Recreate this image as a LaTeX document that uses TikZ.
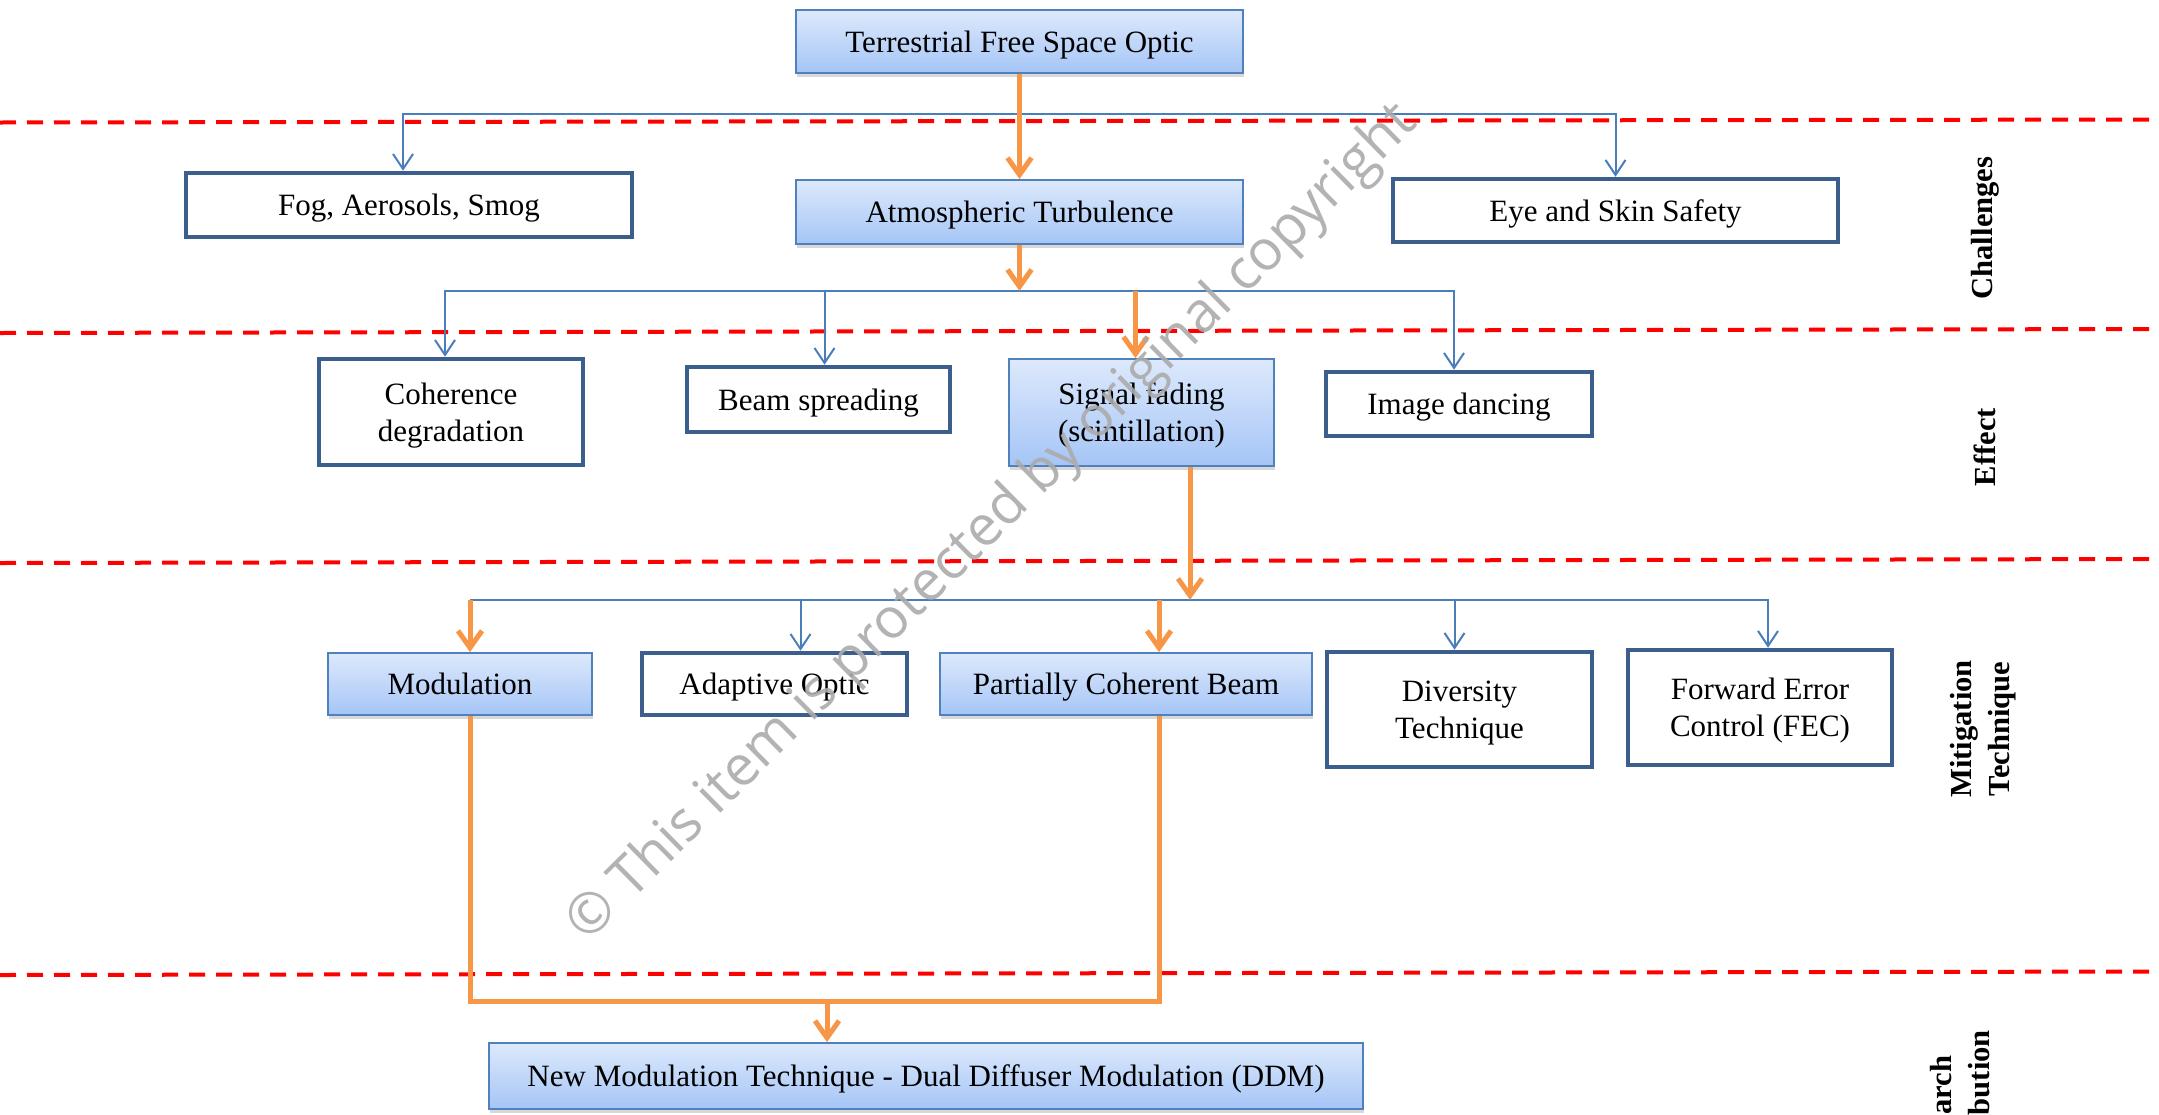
\documentclass[tikz,border=0pt]{standalone}
\usepackage{fontspec}
\setmainfont{Liberation Serif}
\newfontfamily\wmfont{Open Sans}
\usetikzlibrary{arrows.meta,shadows,calc}
\definecolor{bblue}{HTML}{4A7EBB}
\definecolor{nodeblue}{HTML}{4F81BD}
\definecolor{darkframe}{HTML}{3B5E8C}
\definecolor{gtop}{HTML}{DDE9FC}
\definecolor{gbot}{HTML}{A5C5F6}
\definecolor{oran}{HTML}{F79646}
\definecolor{wmgray}{HTML}{ABABAB}
\begin{document}
\begin{tikzpicture}[x=1pt,y=-1pt,
 every node/.style={font=\fontsize{31}{37}\selectfont, inner sep=0pt, align=center},
 boxtext/.style={text depth=-3pt},
 gbox/.style={boxtext, draw=nodeblue, line width=1.8pt, top color=gtop, bottom color=gbot,
   drop shadow={shadow xshift=1pt,shadow yshift=-4pt,opacity=0.3}},
 wbox/.style={boxtext, draw=darkframe, line width=4.5pt, fill=white},
 bline/.style={draw=bblue, line width=2pt},
 barrow/.style={bline, -{Straight Barb[length=15pt,width=20pt,line width=2pt]}},
 oline/.style={draw=oran, line width=5pt},
 oarrow/.style={oline, -{Straight Barb[length=17pt,width=24pt,line width=5pt]}},
 sepline/.style={draw=red, line width=4pt, dash pattern=on 16pt off 11pt},
 side/.style={font=\fontsize{30.6}{38}\selectfont\bfseries, rotate=90},
]
\useasboundingbox (0,0) rectangle (2159,1114);
\clip (0,0) rectangle (2159,1114);
\fill[white] (0,0) rectangle (2159,1114);

% separators
\draw[sepline] (0,122.5) -- (2159,119.5);
\draw[sepline] (0,333) -- (2159,329);
\draw[sepline] (0,563) -- (2159,559);
\draw[sepline] (0,975) -- (2159,971.5);

% nodes
\node[gbox, minimum width=447pt, minimum height=63pt] (top) at (1019.5,41.5) {Terrestrial Free Space Optic};
\node[wbox, minimum width=446pt, minimum height=64pt] (fog) at (409,205) {Fog, Aerosols, Smog};
\node[gbox, minimum width=447pt, minimum height=64pt] (atm) at (1019.5,212) {Atmospheric Turbulence};
\node[wbox, minimum width=445pt, minimum height=63pt] (eye) at (1615.5,210.5) {Eye and Skin Safety};

\node[wbox, minimum width=264pt, minimum height=106pt] (coh) at (451,412) {Coherence\\degradation};
\node[wbox, minimum width=263pt, minimum height=65pt] (beam) at (818.5,399.5) {Beam spreading};
\node[gbox, minimum width=265pt, minimum height=107pt] (signal) at (1141.5,412.5) {Signal fading\\(scintillation)};
\node[wbox, minimum width=266pt, minimum height=64pt] (img) at (1459,404) {Image dancing};

\node[gbox, minimum width=264pt, minimum height=62pt] (mod) at (460,684) {Modulation};
\node[wbox, minimum width=265pt, minimum height=62pt] (adapt) at (774.5,684) {Adaptive Optic};
\node[gbox, minimum width=372pt, minimum height=62pt] (part) at (1126,684) {Partially Coherent Beam};
\node[wbox, minimum width=265pt, minimum height=115pt] (div) at (1459.5,709.5) {Diversity\\Technique};
\node[wbox, minimum width=264pt, minimum height=115pt] (fec) at (1760,707.5) {Forward Error\\Control (FEC)};

\node[gbox, minimum width=874pt, minimum height=66pt] (ddm) at (926,1076) {New Modulation Technique - Dual Diffuser Modulation (DDM)};

% side labels
\node[side] (lch) at (1985,228) {Challenges};
\node[side] (lef) at (1985,447) {Effect};
\node[side] (lmt) at (1983,729) {Mitigation\\Technique};
\node[side] (lrc) at (1960,1116) {Research\\Contribution};

% level 1
\coordinate (b1) at ($(top.south)+(0,40)$);
\coordinate (fogin) at ($(fog.north)+(-6,0)$);
\draw[bline] (top.south) -- (b1);
\draw[barrow] (b1) -| (fogin);
\draw[barrow] (b1) -| (eye.north);
\draw[oarrow] (top.south) -- (atm.north);

% level 2
\coordinate (b2) at ($(atm.south)+(0,46)$);
\coordinate (cohin) at ($(coh.north)+(-6,0)$);
\coordinate (beamin) at ($(beam.north)+(6,0)$);
\coordinate (imgin) at ($(img.north)+(-5,0)$);
\coordinate (sigin) at ($(signal.north)+(-6,0)$);
\draw[barrow] (b2) -| (cohin);
\draw[barrow] (b2) -| (beamin);
\draw[barrow] (b2) -| (imgin);
\draw[oarrow] (sigin |- b2) -- (sigin);
\draw[oarrow] (atm.south) -- (b2);

% level 3
\coordinate (sigout) at ($(signal.south)+(48.5,0)$);
\coordinate (b3) at ($(sigout)+(0,133)$);
\coordinate (modin) at ($(mod.north)+(10,0)$);
\coordinate (adin) at ($(adapt.north)+(26,0)$);
\coordinate (partin) at ($(part.north)+(33,0)$);
\coordinate (divin) at ($(div.north)+(-5,0)$);
\coordinate (fecin) at ($(fec.north)+(8,0)$);
\draw[bline] (b3) -- (b3 -| modin);
\draw[barrow] (b3) -| (adin);
\draw[barrow] (b3) -| (divin);
\draw[barrow] (b3) -| (fecin);
\draw[oarrow] (b3 -| modin) -- (modin);
\draw[oarrow] (b3 -| partin) -- (partin);
\draw[oarrow] (sigout) -- (b3);

% level 4
\coordinate (modout) at ($(mod.south)+(10,0)$);
\coordinate (partout) at ($(part.south)+(33,0)$);
\coordinate (ddmin) at ($(ddm.north)+(-99,0)$);
\coordinate (jn) at ($(ddmin)+(0,-41)$);
\draw[oline] (modout) |- (jn) -| (partout);
\draw[oarrow] (jn) -- (ddmin);

% watermark
\node[font=\wmfont\fontsize{56}{60}\selectfont, text=wmgray, rotate=44.6, opacity=0.9] (wm) at (993,524) {© This item is protected by original copyright};
\end{tikzpicture}
\end{document}
